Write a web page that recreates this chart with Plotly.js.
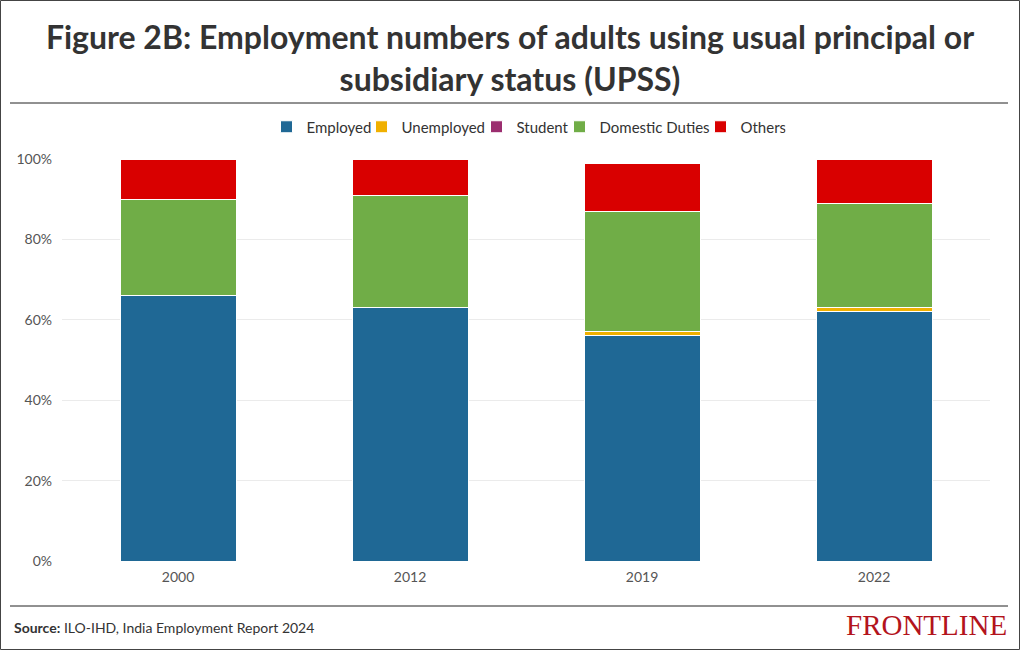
<!DOCTYPE html>
<html>
<head>
<meta charset="utf-8">
<script src="https://cdn.plot.ly/plotly-3.0.1.min.js"></script>
<style>
html,body{margin:0;padding:0;background:#fff;}
#chart{width:1020px;height:650px;}
</style>
</head>
<body>
<div id="chart"></div>
<script>
const years = ["2000", "2012", "2019", "2022"];
const employed = [66, 63, 56, 62];
const unemployed = [0, 0, 1, 1];
const student = [0, 0, 0, 0];
const domesticDuties = [24, 28, 30, 26];
const others = [10, 9, 12, 11];
const yTickVals = [0, 20, 40, 60, 80, 100];
const yTickText = ["0%", "20%", "40%", "60%", "80%", "100%"];

const FONT = "Lato, 'Open Sans', sans-serif";
const series = [
  {name: "Employed", y: employed, color: "#1f6895", lw: 50},
  {name: "Unemployed", y: unemployed, color: "#f0b000", lw: 70},
  {name: "Student", y: student, color: "#9b2d6f", lw: 38},
  {name: "Domestic Duties", y: domesticDuties, color: "#70ad47", lw: 96},
  {name: "Others", y: others, color: "#d90000", lw: 40}
];
const traces = series.map(s => ({
  type: "bar",
  name: s.name,
  x: years,
  y: s.y,
  legendwidth: s.lw,
  marker: {color: s.color, line: {color: "#ffffff", width: 1}},
  hoverinfo: "x+y+name"
}));

// plot area in pixels
const L = 62, R = 30, T = 159, B = 89, W = 1020 - L - R, H = 650 - T - B;
const px = v => (v - L) / W;
const py = v => (650 - B - v) / H;

const layout = {
  width: 1020, height: 650,
  margin: {l: L, r: R, t: T, b: B},
  paper_bgcolor: "#ffffff", plot_bgcolor: "#ffffff",
  barmode: "stack", bargap: 0.5,
  font: {family: FONT, color: "#333"},
  title: {
    text: "<b>Figure 2B: Employment numbers of adults using usual principal or<br>subsidiary status (UPSS)</b>",
    font: {family: FONT, size: 32, color: "#333333"},
    x: 0.5, xanchor: "center", y: 1 - 49 / 650, yanchor: "middle", yref: "container"
  },
  showlegend: true,
  legend: {
    orientation: "h", x: 0.5, xanchor: "center", y: py(127), yanchor: "middle",
    font: {family: FONT, size: 15, color: "#333"}, traceorder: "normal",
    itemwidth: 30, tracegroupgap: 0
  },
  xaxis: {
    type: "category", showgrid: false, zeroline: false, showline: false,
    tickfont: {family: FONT, size: 14, color: "#555"}, ticks: "", ticklabelstandoff: 6
  },
  yaxis: {
    range: [0, 100], tickvals: yTickVals, ticktext: yTickText,
    showgrid: true, gridcolor: "#ebebeb", gridwidth: 1, zeroline: false,
    tickfont: {family: FONT, size: 14, color: "#555"}, ticks: "", ticklabelstandoff: 9,
    fixedrange: true
  },
  shapes: [
    {type: "rect", xref: "paper", yref: "paper", x0: px(0.5), x1: px(1019.5), y0: py(649.5), y1: py(0.5), line: {color: "#444", width: 1}},
    {type: "line", xref: "paper", yref: "paper", x0: px(10), x1: px(1008), y0: py(103), y1: py(103), line: {color: "#222", width: 1}},
    {type: "line", xref: "paper", yref: "paper", x0: px(10), x1: px(1008), y0: py(606), y1: py(606), line: {color: "#222", width: 1}}
  ],
  annotations: [
    {xref: "paper", yref: "paper", x: px(12), y: py(627), xanchor: "left", yanchor: "middle", showarrow: false,
     text: "<b>Source:</b> ILO-IHD, India Employment Report 2024", font: {family: FONT, size: 14, color: "#333"}},
    {xref: "paper", yref: "paper", x: px(1009), y: py(625), xanchor: "right", yanchor: "middle", showarrow: false,
     text: "FRONTLINE", font: {family: "'Liberation Serif', 'DejaVu Serif', serif", size: 29, color: "#b3141c"}}
  ]
};

Plotly.newPlot("chart", traces, layout, {displayModeBar: false});
</script>
</body>
</html>
